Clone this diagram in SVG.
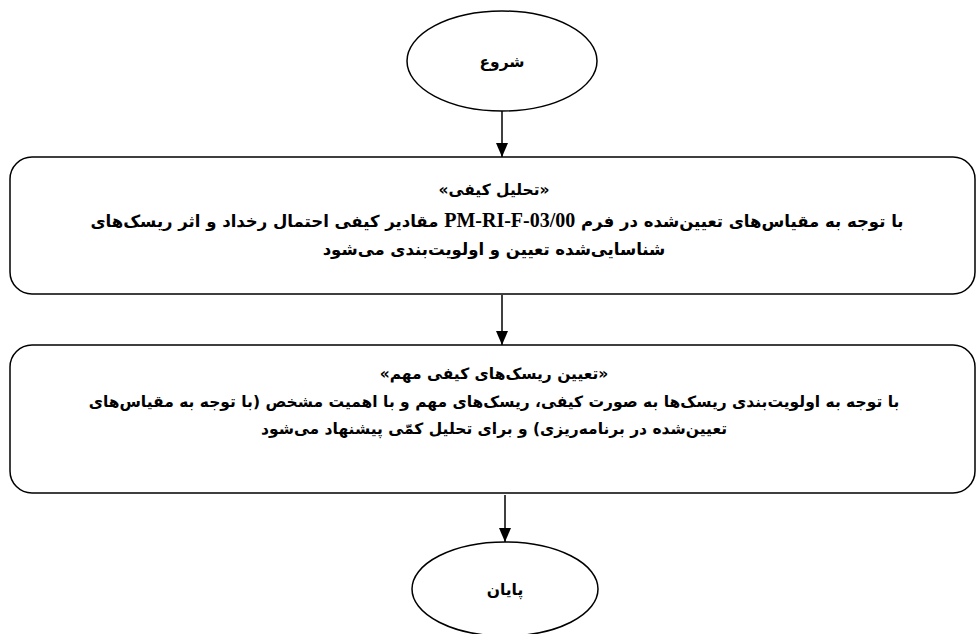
<svg xmlns="http://www.w3.org/2000/svg" width="979" height="634" viewBox="0 0 979 634">
<defs>
<marker id="arr" viewBox="0 0 14 12" refX="14" refY="6" markerWidth="14" markerHeight="12" markerUnits="userSpaceOnUse" orient="auto">
<path d="M0,0 L14,6 L0,12 Z" fill="#000"/>
</marker>
<style>
.shape{fill:#fff;stroke:#000;stroke-width:1.5}
.conn{stroke:#000;stroke-width:1.5;fill:none}
.t{font-family:"DejaVu Sans",sans-serif;font-weight:bold;font-size:15.5px;fill:#000;text-anchor:middle;direction:rtl}
.big{font-size:16.5px}
.lat{font-family:"Liberation Serif",serif;font-size:20px}
</style>
</defs>
<rect width="979" height="634" fill="#fff"/>
<g id="connectors">
<line class="conn" x1="502" y1="111" x2="502" y2="157" marker-end="url(#arr)"/>
<line class="conn" x1="502" y1="295" x2="502" y2="345" marker-end="url(#arr)"/>
<line class="conn" x1="505" y1="495" x2="505" y2="542" marker-end="url(#arr)"/>
</g>
<g id="start">
<ellipse class="shape" cx="502" cy="61" rx="95" ry="50"/>
<text class="t" x="502" y="67" font-size="17">شروع</text>
</g>
<g id="qualitative">
<rect class="shape" x="10" y="157" width="965" height="137" rx="22" ry="22"/>
<text class="t" x="494" y="195">«تحلیل کیفی»</text>
<text class="t big" x="497" y="227">با توجه به مقیاس‌های تعیین‌شده در فرم <tspan class="lat">PM-RI-F-03/00</tspan> مقادیر کیفی احتمال رخداد و اثر ریسک‌های</text>
<text class="t big" x="494" y="255">شناسایی‌شده تعیین و اولویت‌بندی می‌شود</text>
</g>
<g id="important">
<rect class="shape" x="10" y="345" width="965" height="148" rx="22" ry="22"/>
<text class="t" x="494" y="379">«تعیین ریسک‌های کیفی مهم»</text>
<text class="t" x="494" y="407">با توجه به اولویت‌بندی ریسک‌ها به صورت کیفی، ریسک‌های مهم و با اهمیت مشخص (با توجه به مقیاس‌های</text>
<text class="t" x="494" y="434">تعیین‌شده در برنامه‌ریزی) و برای تحلیل کمّی پیشنهاد می‌شود</text>
</g>
<g id="end">
<ellipse class="shape" cx="505" cy="589" rx="93" ry="47"/>
<text class="t" x="505" y="595" font-size="17">پایان</text>
</g>
</svg>
